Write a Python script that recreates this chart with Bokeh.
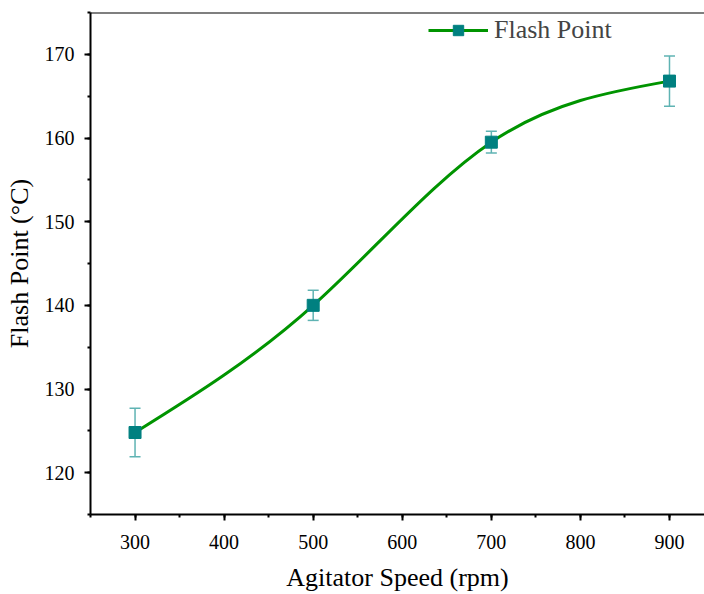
import numpy as np
from bokeh.plotting import figure
from bokeh.models import (ColumnDataSource, Whisker, FixedTicker, Span, Legend,
                          LegendItem, Range1d)
from bokeh.embed import file_html
from bokeh.resources import INLINE

# ---- data ----
speed = [300, 500, 700, 900]
flash_point = [124.8, 140.0, 159.5, 166.8]
flash_err = [2.9, 1.8, 1.3, 3.0]
x_ticks = [300, 400, 500, 600, 700, 800, 900]
y_ticks = [120, 130, 140, 150, 160, 170]

FONT = "Liberation Serif"
LINE_C = "#009400"
MARK_C = "#008080"
ERR_C = "#5fb3b3"

# natural cubic spline through the data (rendering of the smooth line)
xs = np.array(speed, float)
ys = np.array(flash_point, float)
n = len(xs)
h = np.diff(xs)
A = np.zeros((n, n)); r = np.zeros(n)
A[0, 0] = A[-1, -1] = 1
for i in range(1, n - 1):
    A[i, i - 1] = h[i - 1]; A[i, i] = 2 * (h[i - 1] + h[i]); A[i, i + 1] = h[i]
    r[i] = 6 * ((ys[i + 1] - ys[i]) / h[i] - (ys[i] - ys[i - 1]) / h[i - 1])
M = np.linalg.solve(A, r)
d = np.zeros(n)
for i in range(n - 1):
    d[i] = (ys[i + 1] - ys[i]) / h[i] - h[i] * (2 * M[i] + M[i + 1]) / 6
d[-1] = (ys[-1] - ys[-2]) / h[-1] + h[-1] * (M[-2] + 2 * M[-1]) / 6
bez = dict(x0=xs[:-1], y0=ys[:-1], x1=xs[1:], y1=ys[1:],
           cx0=xs[:-1] + h / 3, cy0=ys[:-1] + d[:-1] * h / 3,
           cx1=xs[1:] - h / 3, cy1=ys[1:] - d[1:] * h / 3)

p = figure(width=704, height=594, output_backend="svg", toolbar_location=None,
           x_range=Range1d(250, 939.3), y_range=Range1d(115, 175),
           min_border_left=90, min_border_top=12, min_border_right=0,
           min_border_bottom=78)
p.outline_line_color = None
p.grid.visible = False
p.background_fill_color = "white"

p.bezier(x0="x0", y0="y0", x1="x1", y1="y1", cx0="cx0", cy0="cy0",
         cx1="cx1", cy1="cy1", source=ColumnDataSource(bez),
         line_color=LINE_C, line_width=3)

src = ColumnDataSource(dict(x=speed, y=flash_point,
                            lo=[v - e for v, e in zip(flash_point, flash_err)],
                            hi=[v + e for v, e in zip(flash_point, flash_err)]))
w = Whisker(base="x", lower="lo", upper="hi", source=src,
            line_color=ERR_C, line_width=1.5)
for hd in (w.upper_head, w.lower_head):
    hd.line_color = ERR_C
    hd.size = 11
    hd.line_width = 1.5
p.add_layout(w)

p.scatter("x", "y", source=src, marker="square", size=12,
          fill_color=MARK_C, line_color=MARK_C)

top = Span(location=175, dimension="width", line_color="black", line_width=2)
p.add_layout(top)

# legend
lg_line = p.line([0], [0], line_color=LINE_C, line_width=3, visible=False)
lg_sq = p.scatter([0], [0], marker="square", size=11, fill_color=MARK_C,
                  line_color=MARK_C, visible=False)
legend = Legend(items=[LegendItem(label="Flash Point", renderers=[lg_line, lg_sq])],
                location=(338, 469), border_line_color=None,
                background_fill_alpha=0, label_text_font=FONT,
                label_text_font_size="26px", glyph_width=60, glyph_height=26,
                label_standoff=6, padding=4, margin=0)
p.add_layout(legend)

for ax in (p.xaxis[0], p.yaxis[0]):
    ax.axis_line_width = 2
    ax.major_tick_line_width = 2
    ax.minor_tick_line_width = 2
    ax.major_tick_in = 0
    ax.major_tick_out = 6
    ax.minor_tick_in = 0
    ax.minor_tick_out = 3
    ax.major_label_text_font = FONT
    ax.major_label_text_font_size = "20px"
    ax.major_label_text_color = "black"
    ax.axis_label_text_font = FONT
    ax.axis_label_text_font_size = "26px"
    ax.axis_label_text_font_style = "normal"
    ax.axis_label_text_color = "black"

p.xaxis.ticker = FixedTicker(ticks=x_ticks, minor_ticks=list(range(250, 951, 50)))
p.yaxis.ticker = FixedTicker(ticks=y_ticks, minor_ticks=list(range(115, 176, 5)))
p.xaxis.axis_label = "Agitator Speed (rpm)"
p.yaxis.axis_label = "Flash Point (°C)"
p.xaxis.major_label_standoff = 14
p.yaxis.major_label_standoff = 10
p.xaxis.axis_label_standoff = 11
p.yaxis.axis_label_standoff = 8

open("out.html", "w").write(file_html(p, INLINE))
